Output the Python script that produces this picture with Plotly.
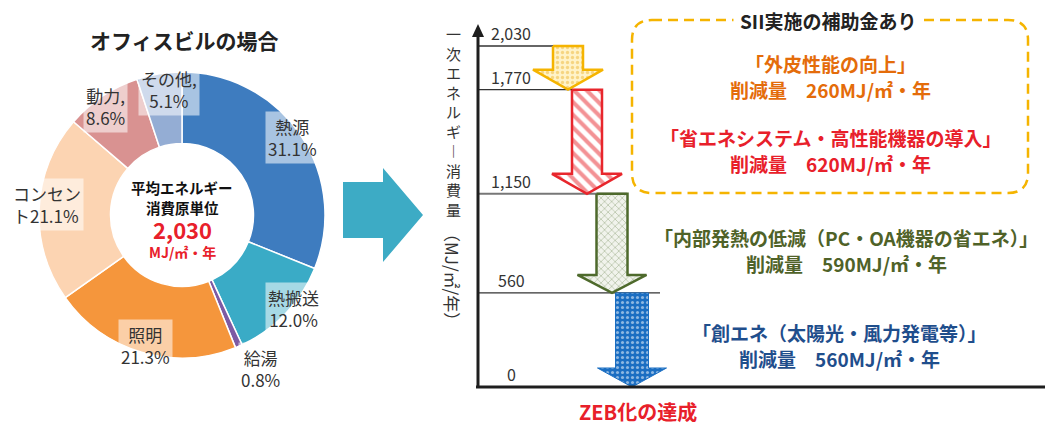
import plotly.graph_objects as go

W, H = 1045, 426
FONT = "Noto Sans CJK JP"

# ---- energy use breakdown of an office building (%) ----
categories = ["熱源", "熱搬送", "給湯", "照明", "コンセント", "動力", "その他"]
shares = [31.1, 12.0, 0.8, 21.3, 21.1, 8.6, 5.1]
total_energy = 2030  # MJ/㎡・年

# ---- step-down to ZEB (MJ/㎡・年) ----
levels = [2030, 1770, 1150, 560, 0]
measures = [
    "「外皮性能の向上」",
    "「省エネシステム・高性能機器の導入」",
    "「内部発熱の低減（PC・OA機器の省エネ）」",
    "「創エネ（太陽光・風力発電等）」",
]
reductions = [260, 620, 590, 560]

# ---- styling ----
slice_colors = ["#3E7CBF", "#3AABC6", "#7D5AA4", "#F5963C", "#FCD4B2", "#D99291", "#94ADD4"]
label_fmt = [
    "{n}<br>{v:.1f}%", "{n}<br>{v:.1f}%", "{n}<br>{v:.1f}%", "{n}<br>{v:.1f}%",
    "{a}<br>{b}{v:.1f}%", "{n},<br>{v:.1f}%", "{n},<br>{v:.1f}%",
]
label_pos = [(292, 137, "center"), (293, 308, "center"), (260, 368, "center"),
             (145, 345, "center"), (10, 205, "left"), (105, 106, "center"),
             (169, 89, "center")]

arrow_style = [
    dict(cx=568, bw=15, hw=35, hl=20, line="#F5B400", lw=2.5,
         pat=dict(shape=".", fgcolor="#EDB73A", bgcolor="#FFF3C8", size=5, solidity=0.35)),
    dict(cx=587, bw=15, hw=35, hl=20, line="#E8262C", lw=2.5,
         pat=dict(shape="\\", fgcolor="#E8262C", bgcolor="#FFFFFF", size=9, solidity=0.45)),
    dict(cx=612, bw=15.5, hw=34.5, hl=18, line="#4E6A2C", lw=2.5,
         pat=dict(shape="x", fgcolor="#6B8452", bgcolor="#F1F3EC", size=5, solidity=0.25)),
    dict(cx=632, bw=16.5, hw=34.5, hl=19, line="#1B6EC2", lw=1,
         pat=dict(shape=".", fgcolor="#FFFFFF", bgcolor="#1B6EC2", size=5, solidity=0.3)),
]
level_line_end = [553, 572, 627, 660]
level_line_color = ["#333333", "#333333", "#777777", "#333333"]
text_colors = ["#E46C0A", "#E8202A", "#4F6228", "#1F4E8C"]
text_pos = [(830, 63, 90), (830, 137, 163), (846, 237, 263), (839, 332, 358)]

AX_X, AX_Y0, AX_YTOP = 478, 387, 46   # axis position in pixels


def px(x):
    return x / W


def py(y):
    return 1 - y / H


# value -> pixel scale of the step-down panel
k = (AX_Y0 - AX_YTOP) / levels[0]

fig = go.Figure()

# donut
cx0, cy0, r0 = 182, 215, 143
fig.add_trace(go.Pie(
    labels=categories, values=shares, sort=False, direction="clockwise",
    rotation=0, hole=0.5, textinfo="none", hoverinfo="label+percent",
    marker=dict(colors=slice_colors, line=dict(color="white", width=1.5)),
    domain=dict(x=[px(cx0 - r0), px(cx0 + r0)], y=[py(cy0 + r0), py(cy0 - r0)]),
    showlegend=False,
))

# horizontal level lines
for v, xe, c in zip(levels[:-1], level_line_end, level_line_color):
    fig.add_trace(go.Scatter(x=[AX_X, xe], y=[v, v], mode="lines",
                             line=dict(color=c, width=1.3 if c == "#333333" else 2),
                             hoverinfo="skip", showlegend=False))

# arrows from each level down to the next
for i, st in enumerate(arrow_style):
    top, bot = levels[i], levels[i + 1]
    hl = st["hl"] / k
    c, bw, hw = st["cx"], st["bw"], st["hw"]
    xs = [c - bw, c + bw, c + bw, c + hw, c, c - hw, c - bw, c - bw]
    ys = [top, top, bot + hl, bot + hl, bot, bot + hl, bot + hl, top]
    fig.add_trace(go.Scatter(
        x=xs, y=ys, mode="lines", fill="toself",
        fillcolor=st["pat"]["bgcolor"], fillpattern=st["pat"],
        line=dict(color=st["line"], width=st["lw"]),
        hoverinfo="skip", showlegend=False))

ann = []
shapes = []

# title of donut
ann.append(dict(x=px(184), y=py(40), text="<b>オフィスビルの場合</b>",
                font=dict(size=21, color="#222222")))

# centre of donut
ann.append(dict(x=px(182), y=py(188), text="<b>平均エネルギー</b>", font=dict(size=14.5, color="#111111")))
ann.append(dict(x=px(182), y=py(208), text="<b>消費原単位</b>", font=dict(size=14.5, color="#111111")))
ann.append(dict(x=px(182), y=py(229), text=f"<b>{total_energy:,}</b>", font=dict(size=22, color="#E8202A")))
ann.append(dict(x=px(182), y=py(252), text="<b>MJ/㎡・年</b>", font=dict(size=14, color="#E8202A")))

# slice labels
for n, v, fmt, (lx, ly, al) in zip(categories, shares, label_fmt, label_pos):
    txt = fmt.format(n=n, v=v, a=n[:4], b=n[4:])
    ann.append(dict(x=px(lx), y=py(ly), text=txt, align=al,
                    xanchor="left" if al == "left" else "center",
                    bgcolor="rgba(255,255,255,0.55)", borderpad=2,
                    font=dict(size=17, color="#333333")))

# big connecting arrow
ax = [(343, 182), (383, 182), (383, 168), (423, 215), (383, 262), (383, 238), (343, 238)]
shapes.append(dict(type="path", xref="paper", yref="paper",
                   path="M " + " L ".join(f"{px(a)},{py(b)}" for a, b in ax) + " Z",
                   fillcolor="#3DABC5", line=dict(width=0)))

# axes of the step-down panel
shapes.append(dict(type="line", xref="paper", yref="paper", x0=px(AX_X), x1=px(AX_X),
                   y0=py(AX_Y0), y1=py(32), line=dict(color="#1E1E1E", width=3)))
shapes.append(dict(type="line", xref="paper", yref="paper", x0=px(AX_X - 2), x1=1,
                   y0=py(AX_Y0), y1=py(AX_Y0), line=dict(color="#1E1E1E", width=3)))
tri = [(AX_X, 24), (AX_X + 6, 37), (AX_X - 6, 37)]
shapes.append(dict(type="path", xref="paper", yref="paper",
                   path="M " + " L ".join(f"{px(a)},{py(b)}" for a, b in tri) + " Z",
                   fillcolor="#1E1E1E", line=dict(width=0)))

# level values
for v in levels:
    ann.append(dict(x=511, y=v, xref="x", yref="y", yshift=13, text=f"{v:,}",
                    font=dict(size=16, color="#333333")))

# vertical axis title
ann.append(dict(x=px(453), y=py(121), text="<br>".join(list("一次エネルギ") + ["︱"] + list("消費量")),
                font=dict(size=15, color="#333333")))
ann.append(dict(x=px(453), y=py(277), text="（MJ/㎡/年）", textangle=90,
                font=dict(size=17, color="#333333")))

# dashed rounded frame for subsidised measures
x0, x1, y0, y1, rr = 632, 1028, 20, 193, 20
pts = [f"M {px(x0 + rr)},{py(y0)}", f"L {px(x1 - rr)},{py(y0)}",
       f"Q {px(x1)},{py(y0)} {px(x1)},{py(y0 + rr)}", f"L {px(x1)},{py(y1 - rr)}",
       f"Q {px(x1)},{py(y1)} {px(x1 - rr)},{py(y1)}", f"L {px(x0 + rr)},{py(y1)}",
       f"Q {px(x0)},{py(y1)} {px(x0)},{py(y1 - rr)}", f"L {px(x0)},{py(y0 + rr)}",
       f"Q {px(x0)},{py(y0)} {px(x0 + rr)},{py(y0)}", "Z"]
shapes.append(dict(type="path", xref="paper", yref="paper", path=" ".join(pts),
                   line=dict(color="#F5B400", width=2.5, dash="10px,6px")))
ann.append(dict(x=px(828), y=py(20), text="<b>SII実施の補助金あり</b>", bgcolor="white",
                borderpad=6, font=dict(size=19, color="#222222")))

# measure descriptions
for m, r, c, (tx, ty1, ty2) in zip(measures, reductions, text_colors, text_pos):
    ann.append(dict(x=px(tx), y=py(ty1), text=f"<b>{m}</b>", font=dict(size=19, color=c)))
    ann.append(dict(x=px(tx), y=py(ty2), text=f"<b>削減量　{r}MJ/㎡・年</b>",
                    font=dict(size=19, color=c)))

ann.append(dict(x=px(638), y=py(411), text="<b>ZEB化の達成</b>",
                font=dict(size=20, color="#E8202A")))

for a in ann:
    a.setdefault("xref", "paper")
    a.setdefault("yref", "paper")
    a.setdefault("showarrow", False)
    a.setdefault("xanchor", "center")
    a.setdefault("yanchor", "middle")

fig.update_layout(
    width=W, height=H, margin=dict(l=0, r=0, t=0, b=0),
    paper_bgcolor="white", plot_bgcolor="rgba(0,0,0,0)",
    font=dict(family=FONT, color="#333333"),
    xaxis=dict(range=[0, W], domain=[0, 1], visible=False, fixedrange=True),
    yaxis=dict(range=[(AX_Y0 - H) / k, AX_Y0 / k], domain=[0, 1], visible=False, fixedrange=True),
    annotations=ann, shapes=shapes, showlegend=False,
)

fig.write_html("out.html")
